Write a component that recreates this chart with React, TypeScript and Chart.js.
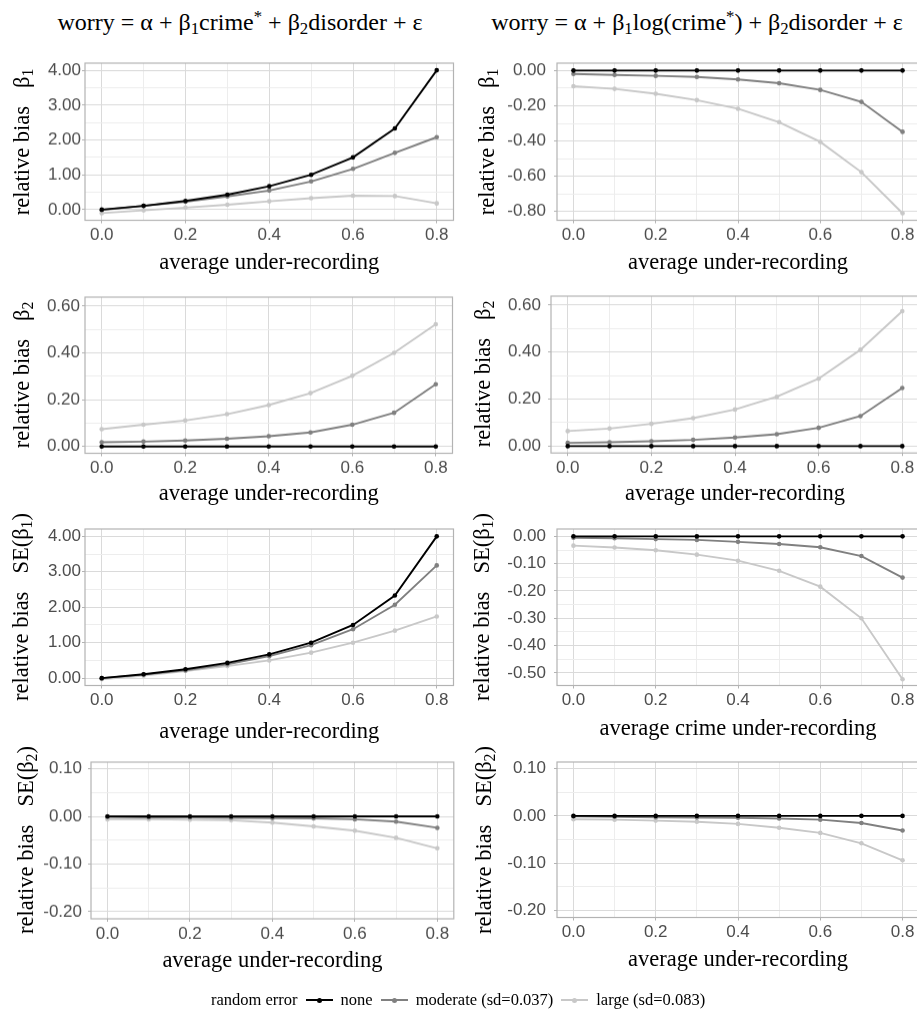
import React, { useEffect, useRef } from "react";
import { Chart, registerables } from "chart.js";

Chart.register(...registerables);

// ---------- data ----------
const xValues = [0.0, 0.1, 0.2, 0.3, 0.4, 0.5, 0.6, 0.7, 0.8];
const xMajorTicks = [0.0, 0.2, 0.4, 0.6, 0.8];
const xMinorTicks = [0.1, 0.3, 0.5, 0.7];

const seriesNames = ["none", "moderate (sd=0.037)", "large (sd=0.083)"];

// beta1, linear crime
const b1LinNone = [0.0, 0.11, 0.25, 0.43, 0.67, 1.0, 1.5, 2.33, 4.0];
const b1LinModerate = [-0.01, 0.11, 0.23, 0.38, 0.55, 0.81, 1.17, 1.63, 2.08];
const b1LinLarge = [-0.1, -0.02, 0.06, 0.14, 0.24, 0.33, 0.4, 0.39, 0.18];

// beta1, log crime
const b1LogNone = [0, 0, 0, 0, 0, 0, 0, 0, 0];
const b1LogModerate = [-0.019, -0.025, -0.03, -0.036, -0.051, -0.072, -0.11, -0.178, -0.348];
const b1LogLarge = [-0.089, -0.104, -0.132, -0.168, -0.217, -0.293, -0.405, -0.577, -0.81];

// beta2, linear crime
const b2LinNone = [0, 0, 0, 0, 0, 0, 0, 0, 0];
const b2LinModerate = [0.018, 0.021, 0.026, 0.033, 0.044, 0.06, 0.093, 0.144, 0.266];
const b2LinLarge = [0.074, 0.093, 0.111, 0.138, 0.177, 0.228, 0.302, 0.4, 0.522];

// beta2, log crime
const b2LogNone = [0, 0, 0, 0, 0, 0, 0, 0, 0];
const b2LogModerate = [0.014, 0.017, 0.021, 0.027, 0.037, 0.051, 0.078, 0.128, 0.247];
const b2LogLarge = [0.064, 0.075, 0.095, 0.119, 0.156, 0.21, 0.287, 0.41, 0.574];

// SE(beta1), linear crime
const seB1LinNone = [0.0, 0.11, 0.25, 0.43, 0.67, 1.0, 1.5, 2.33, 4.0];
const seB1LinModerate = [0.0, 0.1, 0.22, 0.39, 0.62, 0.93, 1.38, 2.07, 3.18];
const seB1LinLarge = [-0.03, 0.07, 0.2, 0.34, 0.5, 0.72, 1.0, 1.34, 1.74];

// SE(beta1), log crime
const seB1LogNone = [0, 0, 0, 0, 0, 0, 0, 0, 0];
const seB1LogModerate = [-0.005, -0.007, -0.01, -0.013, -0.02, -0.028, -0.04, -0.072, -0.151];
const seB1LogLarge = [-0.034, -0.041, -0.051, -0.067, -0.089, -0.126, -0.184, -0.3, -0.523];

// SE(beta2), linear crime
const seB2LinNone = [0, 0, 0, 0, 0, 0, 0, 0, 0];
const seB2LinModerate = [-0.001, -0.002, -0.002, -0.003, -0.0035, -0.004, -0.006, -0.011, -0.024];
const seB2LinLarge = [-0.006, -0.006, -0.007, -0.008, -0.013, -0.021, -0.03, -0.045, -0.067];

// SE(beta2), log crime
const seB2LogNone = [0, 0, 0, 0, 0, 0, 0, 0, 0];
const seB2LogModerate = [-0.001, -0.002, -0.003, -0.0035, -0.004, -0.0055, -0.008, -0.015, -0.031];
const seB2LogLarge = [-0.007, -0.008, -0.01, -0.0125, -0.017, -0.025, -0.036, -0.058, -0.094];

// y tick sets
const yB1LinMajor = [0, 1, 2, 3, 4];
const yB1LinMinor = [0.5, 1.5, 2.5, 3.5];
const yB1LogMajor = [0, -0.2, -0.4, -0.6, -0.8];
const yB1LogMinor = [-0.1, -0.3, -0.5, -0.7];
const yB2Major = [0, 0.2, 0.4, 0.6];
const yB2Minor = [0.1, 0.3, 0.5];
const ySeB1LogMajor = [0, -0.1, -0.2, -0.3, -0.4, -0.5];
const ySeB1LogMinor = [-0.05, -0.15, -0.25, -0.35, -0.45];
const ySeB2Major = [-0.2, -0.1, 0, 0.1];
const ySeB2Minor = [-0.15, -0.05, 0.05];

// ---------- styles ----------
const COLORS = ["#000000", "#808080", "#c8c8c8"];
const SERIF = '"Liberation Serif", "Times New Roman", serif';
const SANS = '"Liberation Sans", Arial, sans-serif';
const TICK_FONT = { family: SANS, size: 17 };
const X_TITLE_FONT = { family: SERIF, size: 22.5 };

type Box = {
  pl: number; pr: number; pt: number; pb: number;
  xTitleY: number; labelPad: number; yTitleX: number; canvasRight: number;
};

type PanelCfg = {
  series: number[][];
  yMin: number; yMax: number; yMajor: number[]; yMinor: number[];
  yTitle: React.ReactNode; xTitle: string; box: Box;
};

const near = (list: number[], v: number) => list.some((m) => Math.abs(m - v) < 1e-9);

const borderPlugin = {
  id: "panelBorder",
  afterDraw(chart: any) {
    const { ctx, chartArea: a } = chart;
    ctx.save();
    ctx.strokeStyle = "#b3b3b3";
    ctx.lineWidth = 1.2;
    ctx.strokeRect(a.left, a.top, a.right - a.left, a.bottom - a.top);
    ctx.restore();
  },
};

const TOP_PAD = 22;
const LEFT_SPACE = 70;

function Panel({ cfg }: { cfg: PanelCfg }) {
  const ref = useRef<HTMLCanvasElement>(null);
  const b = cfg.box;
  const left = b.pl - LEFT_SPACE;
  const top = b.pt - TOP_PAD;
  const width = b.canvasRight - left;
  const bottom = b.xTitleY + 13.5;
  const height = bottom - top;

  useEffect(() => {
    if (!ref.current) return;
    const datasets = cfg.series.map((vals, i) => ({
      label: seriesNames[i],
      data: xValues.map((x, j) => ({ x, y: vals[j] })),
      borderColor: COLORS[i],
      backgroundColor: COLORS[i],
      pointBackgroundColor: COLORS[i],
      pointBorderWidth: 0,
      pointRadius: 2.3,
      borderWidth: 1.9,
      tension: 0,
    }));
    const gridColor = (major: number[]) => (ctx: any) =>
      ctx.tick && near(major, ctx.tick.value) ? "#dadada" : "#ededed";
    const tickColor = (major: number[]) => (ctx: any) =>
      ctx.tick && near(major, ctx.tick.value) ? "#b3b3b3" : "rgba(0,0,0,0)";
    const chart = new Chart(ref.current, {
      type: "line",
      data: { datasets },
      options: {
        responsive: false,
        maintainAspectRatio: false,
        animation: false,
        events: [],
        layout: { padding: { top: TOP_PAD, right: b.canvasRight - b.pr, left: 0, bottom: 0 } },
        plugins: { legend: { display: false }, tooltip: { enabled: false } },
        scales: {
          x: {
            type: "linear",
            min: -0.04,
            max: 0.84,
            afterBuildTicks: (s: any) => {
              s.ticks = [...xMajorTicks, ...xMinorTicks].sort((p, q) => p - q).map((v) => ({ value: v }));
            },
            afterFit: (s: any) => {
              s.height = bottom - b.pb;
            },
            ticks: {
              autoSkip: false,
              maxRotation: 0,
              padding: 2,
              color: "#4d4d4d",
              font: TICK_FONT,
              callback: (v: any) => (near(xMajorTicks, Number(v)) ? Number(v).toFixed(1) : ""),
            },
            grid: {
              color: gridColor(xMajorTicks),
              tickColor: tickColor(xMajorTicks),
              lineWidth: 1,
              tickLength: 3,
              drawTicks: true,
            },
            border: { display: false },
            title: {
              display: true,
              text: cfg.xTitle,
              color: "#000000",
              font: X_TITLE_FONT,
              padding: { top: 0, bottom: 0 },
            },
          },
          y: {
            type: "linear",
            min: cfg.yMin,
            max: cfg.yMax,
            afterBuildTicks: (s: any) => {
              s.ticks = [...cfg.yMajor, ...cfg.yMinor].sort((p, q) => p - q).map((v) => ({ value: v }));
            },
            afterFit: (s: any) => {
              s.width = LEFT_SPACE;
            },
            ticks: {
              autoSkip: false,
              padding: b.labelPad,
              color: "#4d4d4d",
              font: TICK_FONT,
              callback: (v: any) => (near(cfg.yMajor, Number(v)) ? Number(v).toFixed(2) : ""),
            },
            grid: {
              color: gridColor(cfg.yMajor),
              tickColor: tickColor(cfg.yMajor),
              lineWidth: 1,
              tickLength: 3,
              drawTicks: true,
            },
            border: { display: false },
          },
        },
      },
      plugins: [borderPlugin],
    } as any);
    return () => chart.destroy();
  }, []);

  return (
    <>
      <canvas
        ref={ref}
        width={width}
        height={height}
        style={{ position: "absolute", left, top, width, height }}
      />
      <div
        style={{
          position: "absolute",
          left: b.yTitleX - 150,
          top: (b.pt + b.pb) / 2 - 15,
          width: 300,
          height: 30,
          lineHeight: "30px",
          textAlign: "center",
          transform: "rotate(-90deg)",
          fontFamily: SERIF,
          fontSize: 22.5,
          color: "#000",
          whiteSpace: "nowrap",
        }}
      >
        {cfg.yTitle}
      </div>
    </>
  );
}

const sub = (t: string) => <sub style={{ fontSize: "70%", verticalAlign: "-0.25em", lineHeight: 0 }}>{t}</sub>;
const sup = (t: string) => <sup style={{ fontSize: "70%", verticalAlign: "0.45em", lineHeight: 0 }}>{t}</sup>;
const gap = <span style={{ display: "inline-block", width: 18 }} />;

const titleB1 = <>relative bias{gap}β{sub("1")}</>;
const titleB2 = <>relative bias{gap}β{sub("2")}</>;
const titleSE1 = <>relative bias{gap}SE(β{sub("1")})</>;
const titleSE2 = <>relative bias{gap}SE(β{sub("2")})</>;

const XT = "average under-recording";
const XT_CRIME = "average crime under-recording";

const panels: PanelCfg[] = [
  {
    series: [b1LinNone, b1LinModerate, b1LinLarge],
    yMin: -0.305, yMax: 4.205, yMajor: yB1LinMajor, yMinor: yB1LinMinor,
    yTitle: titleB1, xTitle: XT,
    box: { pl: 84.5, pr: 453.5, pt: 63, pb: 220, xTitleY: 263, labelPad: 1, yTitleX: 22, canvasRight: 474 },
  },
  {
    series: [b1LogNone, b1LogModerate, b1LogLarge],
    yMin: -0.85, yMax: 0.042, yMajor: yB1LogMajor, yMinor: yB1LogMinor,
    yTitle: titleB1, xTitle: XT,
    box: { pl: 556.5, pr: 919, pt: 63, pb: 220, xTitleY: 263, labelPad: 8, yTitleX: 487, canvasRight: 925 },
  },
  {
    series: [b2LinNone, b2LinModerate, b2LinLarge],
    yMin: -0.029, yMax: 0.638, yMajor: yB2Major, yMinor: yB2Minor,
    yTitle: titleB2, xTitle: XT,
    box: { pl: 85, pr: 452.5, pt: 297, pb: 453, xTitleY: 494, labelPad: 2, yTitleX: 22, canvasRight: 474 },
  },
  {
    series: [b2LogNone, b2LogModerate, b2LogLarge],
    yMin: -0.029, yMax: 0.638, yMajor: yB2Major, yMinor: yB2Minor,
    yTitle: titleB2, xTitle: XT,
    box: { pl: 550.7, pr: 919, pt: 296, pb: 452.7, xTitleY: 494, labelPad: 7, yTitleX: 483, canvasRight: 925 },
  },
  {
    series: [seB1LinNone, seB1LinModerate, seB1LinLarge],
    yMin: -0.207, yMax: 4.207, yMajor: yB1LinMajor, yMinor: yB1LinMinor,
    yTitle: titleSE1, xTitle: XT,
    box: { pl: 84.5, pr: 453.5, pt: 528.5, pb: 685, xTitleY: 732, labelPad: 1, yTitleX: 21, canvasRight: 474 },
  },
  {
    series: [seB1LogNone, seB1LogModerate, seB1LogLarge],
    yMin: -0.546, yMax: 0.027, yMajor: ySeB1LogMajor, yMinor: ySeB1LogMinor,
    yTitle: titleSE1, xTitle: XT_CRIME,
    box: { pl: 556.5, pr: 919, pt: 528.5, pb: 685, xTitleY: 729, labelPad: 8, yTitleX: 482, canvasRight: 925 },
  },
  {
    series: [seB2LinNone, seB2LinModerate, seB2LinLarge],
    yMin: -0.215, yMax: 0.114, yMajor: ySeB2Major, yMinor: ySeB2Minor,
    yTitle: titleSE2, xTitle: XT,
    box: { pl: 90.8, pr: 453.8, pt: 762, pb: 918.5, xTitleY: 961, labelPad: 6, yTitleX: 26, canvasRight: 474 },
  },
  {
    series: [seB2LogNone, seB2LogModerate, seB2LogLarge],
    yMin: -0.215, yMax: 0.114, yMajor: ySeB2Major, yMinor: ySeB2Minor,
    yTitle: titleSE2, xTitle: XT,
    box: { pl: 556.5, pr: 919, pt: 761.7, pb: 918, xTitleY: 961, labelPad: 8, yTitleX: 484, canvasRight: 925 },
  },
];

function LegendKey({ color }: { color: string }) {
  return (
    <span style={{ display: "inline-block", position: "relative", width: 27, height: 12, margin: "0 8px" }}>
      <span style={{ position: "absolute", left: 0, top: 5, width: 27, height: 2, background: color }} />
      <span style={{ position: "absolute", left: 11, top: 3.5, width: 5, height: 5, borderRadius: "50%", background: color }} />
    </span>
  );
}

export default function App() {
  return (
    <div
      style={{
        position: "absolute",
        left: 0,
        top: 0,
        width: 917,
        height: 1025,
        overflow: "hidden",
        background: "#ffffff",
        fontFamily: SERIF,
      }}
    >
      <div
        style={{
          position: "absolute", left: 0, top: 7, width: 480, height: 30, lineHeight: "30px",
          textAlign: "center", fontSize: 24, whiteSpace: "nowrap", color: "#000",
        }}
      >
        worry = α + β{sub("1")}crime{sup("*")} + β{sub("2")}disorder + ε
      </div>
      <div
        style={{
          position: "absolute", left: 462, top: 7, width: 470, height: 30, lineHeight: "30px",
          textAlign: "center", fontSize: 24, whiteSpace: "nowrap", color: "#000",
        }}
      >
        worry = α + β{sub("1")}log(crime{sup("*")}) + β{sub("2")}disorder + ε
      </div>
      {panels.map((p, i) => (
        <Panel key={i} cfg={p} />
      ))}
      <div
        style={{
          position: "absolute", left: 211, top: 988, height: 24, display: "flex", alignItems: "center",
          fontSize: 16.5, whiteSpace: "nowrap", color: "#000",
        }}
      >
        <span>random error</span>
        <LegendKey color={COLORS[0]} />
        <span>{seriesNames[0]}</span>
        <LegendKey color={COLORS[1]} />
        <span>{seriesNames[1]}</span>
        <LegendKey color={COLORS[2]} />
        <span>{seriesNames[2]}</span>
      </div>
    </div>
  );
}
